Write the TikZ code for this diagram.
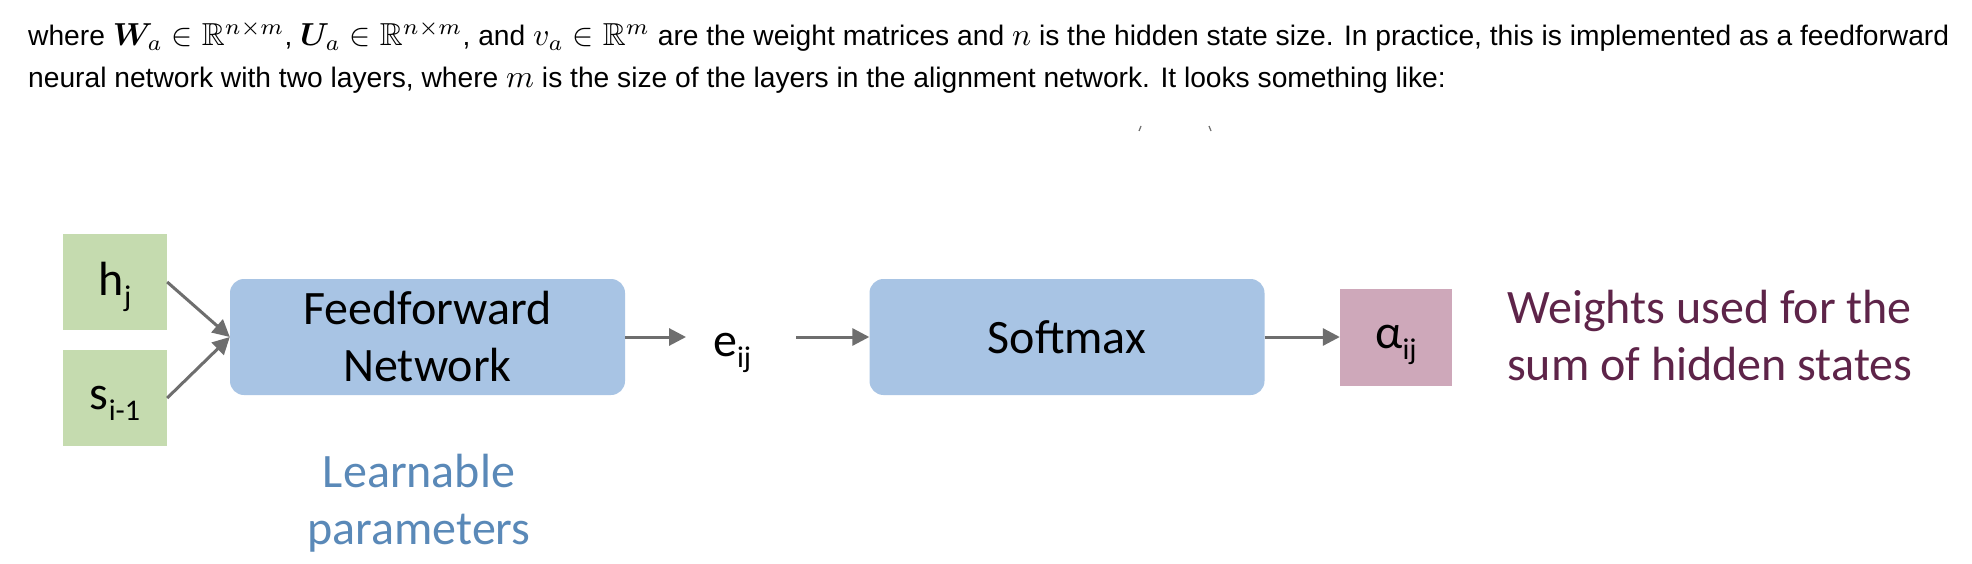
\documentclass[tikz,border=0pt]{standalone}
\usepackage{fontspec}
\usepackage{amssymb}
\usepackage{bm}
\setmainfont{Carlito}
\newfontfamily\helv{Liberation Sans}
\usetikzlibrary{arrows.meta}
\definecolor{boxgreen}{RGB}{197,219,175}
\definecolor{boxblue}{RGB}{168,196,228}
\definecolor{boxmauve}{RGB}{206,168,186}
\definecolor{txtmaroon}{RGB}{94,36,73}
\definecolor{txtblue}{RGB}{90,137,184}
\definecolor{arrgray}{RGB}{110,110,110}
\newcommand{\subtx}[1]{\raisebox{-11pt}{\fontsize{30}{30}\selectfont #1}}
\newcommand{\mth}[1]{\scalebox{3.18}{\fontsize{10}{12}\selectfont$#1$}}
\tikzset{
  para/.style={inner sep=0pt, font=\helv\fontsize{28.2}{34}\selectfont, text=black},
  slide/.style={font=\fontsize{48}{57}\selectfont},
  inbox/.style={slide, fill=boxgreen, minimum width=104pt, minimum height=96pt, inner sep=0pt, text depth=0pt},
  procbox/.style={slide, fill=boxblue, rounded corners=14pt, minimum width=395pt, minimum height=116pt, inner sep=0pt, align=center},
  outbox/.style={slide, fill=boxmauve, minimum width=112pt, minimum height=97pt, inner sep=0pt, text depth=0pt},
  arr/.style={draw=arrgray, line width=3pt, -{Triangle[length=17pt,width=17pt]}},
  note/.style={slide, inner sep=0pt}
}
\begin{document}
\begin{tikzpicture}[x=1pt,y=-1pt]
\useasboundingbox (0,0) rectangle (1972,564);
\fill[white] (0,0) rectangle (1972,564);
% paragraph
\node[para, anchor=base west] (t1) at (28,46) {where \mth{\bm{W}_a \in \mathbb{R}^{n\times m}}, \mth{\bm{U}_a \in \mathbb{R}^{n\times m}}, and \mth{v_a \in \mathbb{R}^m} are the weight matrices and \mth{n} is the hidden state size. In practice, this is implemented as a feedforward};
\node[para, anchor=base west] (t2) at (28,88) {neural network with two layers, where \mth{m} is the size of the layers in the alignment network. It looks something like:};
% tiny marks
\draw[arrgray, line width=1.2pt] (1139,131) -- (1141,126);
\draw[arrgray, line width=1.2pt] (1209,126) -- (1211,131);
% inputs
\node[inbox, text height=26pt] (h) at (115,282) {h\subtx{j}};
\node[inbox, text height=22pt] (s) at (115,398) {s\subtx{i-1}};
% blocks
\node[procbox] (ff) at (427.5,337) {Feedforward\\Network};
\node[note, anchor=base west] (e) at (713,356) {e\subtx{ij}};
\node[procbox] (sm) at (1067,337) {Softmax};
\node[outbox, text height=22pt] (al) at (1396,337) {α\subtx{ij}};
% texts
\node[note, text=txtmaroon, align=left, anchor=west] (w) at (1507,335.5) {Weights used for the\\sum of hidden states};
\node[note, text=txtblue, align=center] (lp) at (419,503) {Learnable\\parameters};
% connectors
\draw[arr] (h.east) -- (ff.west);
\draw[arr] (s.east) -- (ff.west);
\draw[arr] (ff.east) -- ([xshift=-27pt]e.west |- ff.east);
\draw[arr] ([xshift=45pt]e.east |- ff.east) -- (sm.west);
\draw[arr] (sm.east) -- (al.west);
\end{tikzpicture}
\end{document}
